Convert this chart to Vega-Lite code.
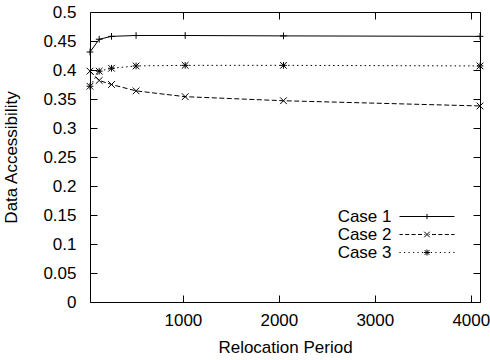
{
  "$schema": "https://vega.github.io/schema/vega-lite/v6.json",
  "width": 390,
  "height": 290,
  "autosize": {"type": "none"},
  "padding": {"left": 90, "top": 12, "right": 10, "bottom": 58},
  "data": {
    "values": [
      {"period": 32, "acc": 0.431, "series": "Case 1"},
      {"period": 128, "acc": 0.453, "series": "Case 1"},
      {"period": 256, "acc": 0.458, "series": "Case 1"},
      {"period": 512, "acc": 0.4595, "series": "Case 1"},
      {"period": 1024, "acc": 0.4595, "series": "Case 1"},
      {"period": 2048, "acc": 0.4588, "series": "Case 1"},
      {"period": 4096, "acc": 0.458, "series": "Case 1"},
      {"period": 32, "acc": 0.398, "series": "Case 2"},
      {"period": 128, "acc": 0.382, "series": "Case 2"},
      {"period": 256, "acc": 0.375, "series": "Case 2"},
      {"period": 512, "acc": 0.364, "series": "Case 2"},
      {"period": 1024, "acc": 0.354, "series": "Case 2"},
      {"period": 2048, "acc": 0.347, "series": "Case 2"},
      {"period": 4096, "acc": 0.338, "series": "Case 2"},
      {"period": 32, "acc": 0.372, "series": "Case 3"},
      {"period": 128, "acc": 0.398, "series": "Case 3"},
      {"period": 256, "acc": 0.403, "series": "Case 3"},
      {"period": 512, "acc": 0.407, "series": "Case 3"},
      {"period": 1024, "acc": 0.408, "series": "Case 3"},
      {"period": 2048, "acc": 0.408, "series": "Case 3"},
      {"period": 4096, "acc": 0.407, "series": "Case 3"}
    ]
  },
  "resolve": {"axis": {"x": "independent", "y": "independent"}, "scale": {"shape": "independent"}},
  "layer": [
    {
      "transform": [{"filter": "datum.series === 'Case 1'"}],
      "mark": {"type": "line", "color": "#000", "strokeWidth": 1},
      "encoding": {
        "x": {
          "field": "period", "type": "quantitative",
          "scale": {"domain": [32, 4096], "nice": false, "zero": false},
          "axis": {"orient": "bottom", "values": [1000, 2000, 3000, 4000], "format": "d", "title": "Relocation Period", "offset": -7, "tickSize": 7, "labelPadding": 10, "titlePadding": 11, "zindex": 2}
        },
        "y": {
          "field": "acc", "type": "quantitative",
          "scale": {"domain": [0, 0.5], "nice": false},
          "axis": {"orient": "left", "values": [0, 0.05, 0.1, 0.15, 0.2, 0.25, 0.3, 0.35, 0.4, 0.45, 0.5], "format": "~g", "title": "Data Accessibility", "offset": -7, "tickSize": 7, "labelPadding": 14, "titlePadding": 22, "zindex": 2}
        }
      }
    },
    {
      "transform": [{"filter": "datum.series === 'Case 2'"}],
      "mark": {"type": "line", "color": "#000", "strokeWidth": 1, "strokeDash": [5, 2.5]},
      "encoding": {
        "x": {"field": "period", "type": "quantitative", "axis": null},
        "y": {"field": "acc", "type": "quantitative", "axis": null}
      }
    },
    {
      "transform": [{"filter": "datum.series === 'Case 3'"}],
      "mark": {"type": "line", "color": "#000", "strokeWidth": 1, "strokeDash": [1.5, 3]},
      "encoding": {
        "x": {"field": "period", "type": "quantitative", "axis": null},
        "y": {"field": "acc", "type": "quantitative", "axis": null}
      }
    },
    {
      "mark": {"type": "point", "filled": false, "stroke": "#000", "strokeWidth": 1, "size": 45, "opacity": 1},
      "encoding": {
        "x": {
          "field": "period", "type": "quantitative",
          "axis": {"orient": "top", "values": [1000, 2000, 3000, 4000], "labels": false, "title": null, "offset": -7, "tickSize": 7, "zindex": 2}
        },
        "y": {
          "field": "acc", "type": "quantitative",
          "axis": {"orient": "right", "values": [0, 0.05, 0.1, 0.15, 0.2, 0.25, 0.3, 0.35, 0.4, 0.45, 0.5], "labels": false, "title": null, "offset": -7, "tickSize": 7, "zindex": 2}
        },
        "shape": {
          "field": "series", "type": "nominal",
          "scale": {"domain": ["Case 1", "Case 2", "Case 3"], "range": ["M-1,0H1M0,-1V1", "M-1,-1L1,1M-1,1L1,-1", "M-1,0H1M0,-1V1M-1,-1L1,1M-1,1L1,-1"]},
          "legend": null
        }
      }
    },
    {
      "mark": {"type": "point", "filled": false, "stroke": "#000", "strokeWidth": 1, "size": 16, "opacity": 0},
      "encoding": {
        "x": {"field": "period", "type": "quantitative", "axis": null},
        "y": {"field": "acc", "type": "quantitative", "axis": null},
        "shape": {
          "field": "series", "type": "nominal",
          "scale": {"domain": ["Case 1", "Case 2", "Case 3"], "range": [
            "M-13.75,0H13.75M0,-1.3V1.3",
            "M-13.75,0H-12.1M-10.9,0H-8.9M-7.7,0H-5.7M-4.5,0H-2.5M-1.3,0H-0.9M0.9,0H1.3M2.5,0H4.5M5.7,0H7.7M8.9,0H10.9M12.1,0H13.75M-1.4,-1.4L1.4,1.4M-1.4,1.4L1.4,-1.4",
            "M-13.75,0h0.6M-11.5,0h0.6M-9.25,0h0.6M-7,0h0.6M-4.75,0h0.6M-2.5,0h0.6M1.9,0h0.6M4.15,0h0.6M6.4,0h0.6M8.65,0h0.6M10.9,0h0.6M13.15,0h0.6M-1.5,0H1.5M0,-1.5V1.5M-1.2,-1.2L1.2,1.2M-1.2,1.2L1.2,-1.2"
          ]},
          "legend": {
            "title": null,
            "orient": "none",
            "legendX": 328.5,
            "legendY": 196,
            "padding": 0,
            "rowPadding": 0,
            "labelAlign": "right",
            "labelOffset": -44,
            "labelFont": "Liberation Sans",
            "labelFontSize": 17,
            "labelColor": "#000",
            "symbolSize": 16,
            "symbolStrokeWidth": 1,
            "symbolStrokeColor": "#000",
            "symbolFillColor": "transparent",
            "symbolOpacity": 1
          }
        }
      }
    }
  ],
  "config": {
    "view": {"stroke": "#000", "strokeWidth": 1},
    "axis": {
      "grid": false,
      "domain": false,
      "ticks": true,
      "tickColor": "#000",
      "tickWidth": 1,
      "tickOpacity": 1,
      "labelFont": "Liberation Sans",
      "labelFontSize": 17,
      "labelColor": "#000",
      "titleFont": "Liberation Sans",
      "titleFontSize": 17,
      "titleFontWeight": "normal",
      "titleColor": "#000"
    }
  }
}
